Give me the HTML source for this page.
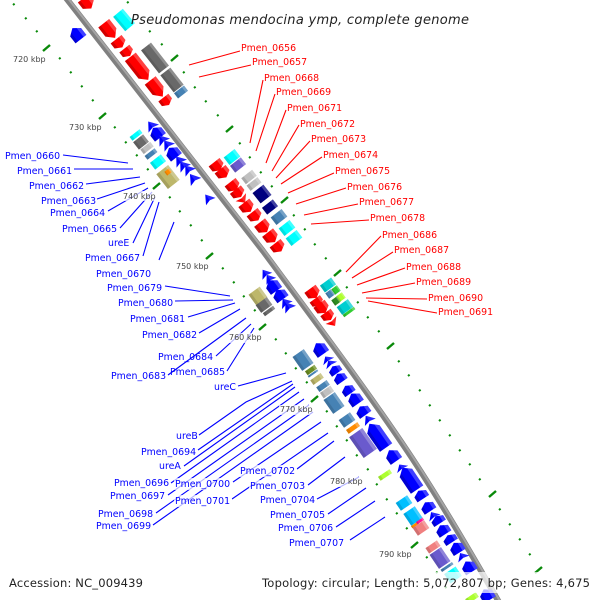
<!DOCTYPE html>
<html><head><meta charset="utf-8"><style>
html,body{margin:0;padding:0;background:#fff}
svg{display:block}
text{font-family:"DejaVu Sans","Liberation Sans",sans-serif}
.r text,.b text{font-size:9.4px}
.r text{fill:#f00}.b text{fill:#00f}
.k text{font-size:8px;fill:#444}
</style></head><body>
<svg width="600" height="600" viewBox="0 0 600 600" xmlns="http://www.w3.org/2000/svg">
<defs>
<g id="q"><rect x="-.47" y="-.575" width=".94" height="1.15"/><rect x="-.47" y="-.575" width=".94" height=".25" fill="#fff" opacity=".25"/><rect x="-.47" y=".325" width=".94" height=".25" fill="#000" opacity=".12"/></g>
<g id="a"><polygon points="-.43,-.575 .15,-.575 .5,0 .15,.575 -.43,.575"/><polygon points="-.43,-.575 .15,-.575 .33,-.28 -.43,-.28" fill="#fff" opacity=".25"/><polygon points="-.43,.32 .3,.32 .15,.575 -.43,.575" fill="#000" opacity=".18"/></g>
<g id="l"><polygon points="-.47,-.575 .27,-.575 .5,0 .27,.575 -.47,.575"/><polygon points="-.47,-.575 .27,-.575 .38,-.28 -.47,-.28" fill="#fff" opacity=".25"/><polygon points="-.47,.32 .34,.32 .27,.575 -.47,.575" fill="#000" opacity=".18"/></g>
<g id="t"><polygon points="-.5,-.6 .5,0 -.5,.6 -.32,0"/><polygon points="-.5,-.6 .5,0 -.32,0" fill="#fff" opacity=".15"/></g>
</defs>

<!-- backbone -->
<path d="M66,-2C130,80 200,170 263,251C320,328 370,395 408,452C440,500 475,560 500,604" fill="none" stroke="#808080" stroke-width="6"/>
<path d="M67,-3C131,79 201,169 264,250C321,327 371,394 409,451C441,499 476,559 501,603" fill="none" stroke="#a4a4a4" stroke-width="2"/>

<!-- tracks -->
<path fill="none" stroke="#0a8a0a" stroke-width="2" d="M13,5l1.6,-1.3M25,19l1.6,-1.3M36,32l1.6,-1.3M59,59l1.6,-1.3M70,73l1.6,-1.3M81,87l1.6,-1.3M92,101l1.6,-1.3M114,128l1.6,-1.3M125,143l1.6,-1.3M136,156l1.6,-1.3M147,170l1.6,-1.3M169,198l1.6,-1.3M179,212l1.6,-1.3M190,226l1.6,-1.3M201,241l1.6,-1.3M222,269l1.6,-1.3M233,283l1.6,-1.3M243,297l1.6,-1.3M254,311l1.6,-1.3M275,340l1.6,-1.3M285,354l1.6,-1.3M295,369l1.6,-1.3M306,383l1.6,-1.3M326,412l1.6,-1.3M336,427l1.6,-1.3M346,441l1.6,-1.3M356,456l1.6,-1.3M367,470l1.6,-1.3M376,485l1.6,-1.3M386,500l1.6,-1.3M396,514l1.6,-1.3M406,529l1.6,-1.3M426,558l1.6,-1.3M436,573l1.6,-1.3M445,588l1.6,-1.3
M127,3l1.6,-1.3M149,32l1.6,-1.3M161,45l1.6,-1.3M183,73l1.6,-1.3M194,88l1.6,-1.3M205,102l1.6,-1.3M217,116l1.6,-1.3M239,144l1.6,-1.3M249,158l1.6,-1.3M260,173l1.6,-1.3M271,187l1.6,-1.3M293,216l1.6,-1.3M304,230l1.6,-1.3M314,245l1.6,-1.3M325,259l1.6,-1.3M346,288l1.6,-1.3M357,303l1.6,-1.3M367,318l1.6,-1.3M378,332l1.6,-1.3M398,362l1.6,-1.3M408,376l1.6,-1.3M419,391l1.6,-1.3M429,406l1.6,-1.3M439,421l1.6,-1.3M449,436l1.6,-1.3M459,451l1.6,-1.3M469,465l1.6,-1.3M479,480l1.6,-1.3M499,510l1.6,-1.3M509,525l1.6,-1.3M519,540l1.6,-1.3M529,555l1.6,-1.3"/>
<path fill="none" stroke="#0a8a0a" stroke-width="2.4" d="M43,51l7,-6M99,119l7,-6M153,189l7,-6M206,259l7,-6M259,330l7,-6M311,402l7,-6M411,548l7,-6M171,61l7,-6M226,132l7,-6M281,203l7,-6M334,276l7,-6M387,349l7,-6M489,497l7,-6M535,573l7,-6"/>

<!-- top genes -->
<g>
<use href="#a" fill="#f00" transform="translate(87,3) rotate(52) scale(14,12)"/>
<use href="#a" fill="#f00" transform="translate(109,30) rotate(52) scale(20,12)"/>
<use href="#a" fill="#f00" transform="translate(119,43) rotate(52) scale(11,12)"/>
<use href="#a" fill="#f00" transform="translate(127,52) rotate(52) scale(10,11)"/>
<use href="#l" fill="#f00" transform="translate(139,68) rotate(52) scale(30,12)"/>
<use href="#a" fill="#f00" transform="translate(156,88) rotate(52) scale(22,12)"/>
<use href="#a" fill="#f00" transform="translate(166,101) rotate(52) scale(10,11)"/>
<use href="#a" fill="#00f" transform="translate(77,34) rotate(52) scale(-15,12)"/>
<use href="#q" fill="#0ff" transform="translate(124,20) rotate(50) scale(20,11)"/>
<use href="#q" fill="#696969" transform="translate(155,58) rotate(52) scale(31,11)"/>
<use href="#q" fill="#696969" transform="translate(172,80) rotate(52) scale(23,11)"/>
<use href="#q" fill="#4682b4" transform="translate(181,92) rotate(52) scale(7,11)"/>
</g>

<!-- group 2 left -->
<g>
<use href="#t" fill="#00f" transform="translate(151,125) rotate(52) scale(-9,11)"/>
<use href="#a" fill="#00f" transform="translate(157,133) rotate(52) scale(-13,12)"/>
<use href="#t" fill="#00f" transform="translate(162,139) rotate(52) scale(-9,11)"/>
<use href="#t" fill="#00f" transform="translate(167,144) rotate(52) scale(-9,11)"/>
<use href="#a" fill="#00f" transform="translate(173,153) rotate(52) scale(-13,12)"/>
<use href="#t" fill="#00f" transform="translate(179,160) rotate(52) scale(-9,11)"/>
<use href="#t" fill="#00f" transform="translate(183,165) rotate(52) scale(-9,11)"/>
<use href="#t" fill="#00f" transform="translate(188,169) rotate(52) scale(-9,11)"/>
<use href="#t" fill="#00f" transform="translate(193,178) rotate(52) scale(-10,11)"/>
<use href="#t" fill="#00f" transform="translate(208,198) rotate(52) scale(-9,10)"/>
<use href="#q" fill="#0ff" transform="translate(136,135) rotate(52) scale(5,11)"/>
<use href="#q" fill="#696969" transform="translate(141,142) rotate(52) scale(10,11)"/>
<use href="#q" fill="#c0c0c0" transform="translate(147,148) rotate(52) scale(6,11)"/>
<use href="#q" fill="#4682b4" transform="translate(151,154) rotate(52) scale(5,11)"/>
<use href="#q" fill="#0ff" transform="translate(158,162) rotate(52) scale(9,12)"/>
<use href="#q" fill="#bdb76b" transform="translate(168,177) rotate(52) scale(20,13)"/>
<use href="#q" fill="#ff8c00" transform="translate(168,172) rotate(52) scale(5,5)"/>
</g>

<!-- group 2 right -->
<g>
<use href="#a" fill="#f00" transform="translate(217,166) rotate(52) scale(11,12)"/>
<use href="#a" fill="#f00" transform="translate(223,173) rotate(52) scale(11,12)"/>
<use href="#a" fill="#f00" transform="translate(233,186) rotate(52) scale(11,12)"/>
<use href="#a" fill="#f00" transform="translate(238,193) rotate(52) scale(10,12)"/>
<use href="#t" fill="#f00" transform="translate(243,200) rotate(52) scale(7,11)"/>
<use href="#a" fill="#f00" transform="translate(247,207) rotate(52) scale(12,12)"/>
<use href="#a" fill="#f00" transform="translate(255,216) rotate(52) scale(11,12)"/>
<use href="#a" fill="#f00" transform="translate(263,227) rotate(52) scale(13,12)"/>
<use href="#a" fill="#f00" transform="translate(271,237) rotate(52) scale(13,12)"/>
<use href="#a" fill="#f00" transform="translate(278,247) rotate(52) scale(11,12)"/>
<use href="#q" fill="#0ff" transform="translate(232,157) rotate(52) scale(10,12)"/>
<use href="#q" fill="#6a5acd" transform="translate(238,165) rotate(52) scale(9,12)"/>
<use href="#q" fill="#c0c0c0" transform="translate(249,177) rotate(52) scale(8,12)"/>
<use href="#q" fill="#c0c0c0" transform="translate(254,184) rotate(52) scale(7,12)"/>
<use href="#q" fill="#000080" transform="translate(262,194) rotate(52) scale(14,12)"/>
<use href="#q" fill="#000080" transform="translate(270,207) rotate(52) scale(9,12)"/>
<use href="#q" fill="#4682b4" transform="translate(279,217) rotate(52) scale(10,12)"/>
<use href="#q" fill="#0ff" transform="translate(287,228) rotate(52) scale(10,12)"/>
<use href="#q" fill="#0ff" transform="translate(294,238) rotate(52) scale(10,12)"/>
</g>

<!-- group 3 -->
<g>
<use href="#t" fill="#00f" transform="translate(265,273) rotate(54) scale(-8,10)"/>
<use href="#t" fill="#00f" transform="translate(269,278) rotate(54) scale(-8,10)"/>
<use href="#a" fill="#00f" transform="translate(273,286) rotate(54) scale(-14,12)"/>
<use href="#a" fill="#00f" transform="translate(280,295) rotate(54) scale(-12,12)"/>
<use href="#t" fill="#00f" transform="translate(285,302) rotate(54) scale(-8,11)"/>
<use href="#t" fill="#00f" transform="translate(288,306) rotate(54) scale(-9,11)"/>
<use href="#q" fill="#bdb76b" transform="translate(258,296) rotate(54) scale(14,12)"/>
<use href="#q" fill="#696969" transform="translate(264,305) rotate(54) scale(10,12)"/>
<use href="#q" fill="#696969" transform="translate(269,311) rotate(54) scale(4,11)"/>
<use href="#a" fill="#f00" transform="translate(313,293) rotate(54) scale(12,12)"/>
<use href="#a" fill="#f00" transform="translate(317,302) rotate(54) scale(9,11)"/>
<use href="#a" fill="#f00" transform="translate(322,308) rotate(54) scale(12,12)"/>
<use href="#a" fill="#f00" transform="translate(328,316) rotate(54) scale(10,11)"/>
<use href="#t" fill="#f00" transform="translate(333,323) rotate(54) scale(7,11)"/>
<use href="#q" fill="#00ced1" transform="translate(328,285) rotate(54) scale(9,12)"/>
<use href="#q" fill="#4682b4" transform="translate(330,294) rotate(54) scale(7,6)"/>
<use href="#q" fill="#32cd32" transform="translate(336,290) rotate(54) scale(7,6)"/>
<use href="#q" fill="#2e8b22" transform="translate(336,301) rotate(54) scale(7,6)"/>
<use href="#q" fill="#adff2f" transform="translate(341,297) rotate(54) scale(7,6)"/>
<use href="#q" fill="#00ced1" transform="translate(345,307) rotate(54) scale(10,12)"/>
<use href="#q" fill="#32cd32" transform="translate(349,312) rotate(54) scale(3,12)"/>
</g>

<!-- group 4 -->
<g>
<use href="#a" fill="#00f" transform="translate(320,349) rotate(55) scale(-14,12)"/>
<use href="#t" fill="#00f" transform="translate(327,359) rotate(55) scale(-6,11)"/>
<use href="#t" fill="#00f" transform="translate(330,363) rotate(55) scale(-6,11)"/>
<use href="#a" fill="#00f" transform="translate(335,370) rotate(55) scale(-9,11)"/>
<use href="#a" fill="#00f" transform="translate(340,378) rotate(55) scale(-10,11)"/>
<use href="#a" fill="#00f" transform="translate(348,390) rotate(55) scale(-10,11)"/>
<use href="#a" fill="#00f" transform="translate(355,399) rotate(55) scale(-13,12)"/>
<use href="#a" fill="#00f" transform="translate(363,411) rotate(55) scale(-11,12)"/>
<use href="#t" fill="#00f" transform="translate(368,419) rotate(55) scale(-8,11)"/>
<use href="#l" fill="#00f" transform="translate(378,436) rotate(55) scale(-30,13)"/>
<use href="#a" fill="#00f" transform="translate(393,456) rotate(55) scale(-14,12)"/>
<use href="#q" fill="#4682b4" transform="translate(303,360) rotate(55) scale(18,12)"/>
<use href="#q" fill="#6b8e23" transform="translate(311,370) rotate(55) scale(5,10)"/>
<use href="#q" fill="#4682b4" transform="translate(313,373.500) rotate(55) scale(2,10)"/>
<use href="#q" fill="#bdb76b" transform="translate(317,379) rotate(55) scale(6,11)"/>
<use href="#q" fill="#4682b4" transform="translate(323,386) rotate(55) scale(6,11)"/>
<use href="#q" fill="#c0c0c0" transform="translate(327,392) rotate(55) scale(7,11)"/>
<use href="#q" fill="#4682b4" transform="translate(334,403) rotate(55) scale(18,12)"/>
<use href="#q" fill="#4682b4" transform="translate(347,420) rotate(55) scale(10,12)"/>
<use href="#q" fill="#ff8c00" transform="translate(353,428) rotate(55) scale(5,12)"/>
<use href="#q" fill="#6a5acd" transform="translate(363,443) rotate(55) scale(27,14)"/>
</g>

<!-- group 5 -->
<g>
<use href="#t" fill="#00f" transform="translate(401,467) rotate(56) scale(-6,11)"/>
<use href="#l" fill="#00f" transform="translate(410,479) rotate(56) scale(-27,13)"/>
<use href="#a" fill="#00f" transform="translate(421,495) rotate(57) scale(-10,12)"/>
<use href="#a" fill="#00f" transform="translate(428,507) rotate(57) scale(-11,12)"/>
<use href="#t" fill="#00f" transform="translate(433,515) rotate(57) scale(-7,11)"/>
<use href="#a" fill="#00f" transform="translate(438,520) rotate(57) scale(-9,12)"/>
<use href="#a" fill="#00f" transform="translate(443,530) rotate(57) scale(-11,12)"/>
<use href="#a" fill="#00f" transform="translate(450,539) rotate(57) scale(-9,12)"/>
<use href="#a" fill="#00f" transform="translate(457,548) rotate(58) scale(-12,12)"/>
<use href="#t" fill="#00f" transform="translate(462,556) rotate(58) scale(-7,11)"/>
<use href="#a" fill="#00f" transform="translate(469,567) rotate(58) scale(-13,12)"/>
<use href="#a" fill="#00f" transform="translate(487,595) rotate(59) scale(-13,12)"/>
<use href="#q" fill="#adff2f" transform="translate(385,475) rotate(56) scale(5,12)"/>
<use href="#q" fill="#00bfff" transform="translate(404,503) rotate(56) scale(10,12)"/>
<use href="#q" fill="#00bfff" transform="translate(413,516) rotate(56) scale(15,12)"/>
<use href="#q" fill="#ff8c00" transform="translate(415,525) rotate(56) scale(3,7)"/>
<use href="#q" fill="#ff1493" transform="translate(420,521) rotate(56) scale(3,7)"/>
<use href="#q" fill="#f08080" transform="translate(421,528) rotate(56) scale(10,12)"/>
<use href="#q" fill="#f08080" transform="translate(433,547) rotate(56) scale(7,12)"/>
<use href="#q" fill="#6a5acd" transform="translate(440,558) rotate(56) scale(18,12)"/>
<use href="#q" fill="#4682b4" transform="translate(447,567) rotate(56) scale(3,12)"/>
<use href="#q" fill="#0ff" transform="translate(453,575) rotate(56) scale(12,12)"/>
<use href="#q" fill="#adff2f" transform="translate(472,598) rotate(56) scale(6,11)"/>
</g>

<!-- red lines -->
<path fill="none" stroke="#f00" stroke-width="1.1" d="M240,51L189,65M251,65L199,77M263,80L250,143M275,94L256,151M286,110L266,163M299,125L272,171M310,141L276,178M322,157L281,184M334,173L288,193M346,188L296,204M358,204L304,215M369,220L311,224M381,236L346,272M393,252L352,278M405,268L357,285M415,283L362,293M427,299L366,298M437,313L368,301"/>
<!-- blue lines -->
<path fill="none" stroke="#00f" stroke-width="1.1" d="M63,155L128,163M74,169L133,169M86,184L140,177M97,199L145,183M108,211L148,188M120,228L152,192M133,243L155,197M143,256L159,202M159,260L174,222M165,286L230,296M175,301L233,300M188,317L235,303M199,333L240,309M168,375L246,318M216,356L251,324M227,371L254,328M238,386L286,373M199,435L246,402L292,381M198,450L293,384M184,466L295,387M171,483L299,392M168,495L304,399M156,513L309,405M153,525L313,412M233,482L321,422M232,499L328,433M297,469L334,441M308,485L345,457M317,499L359,477M328,514L366,488M336,527L375,501M350,540L385,517"/>

<!-- translucent backdrops -->
<rect x="258" y="572" width="336" height="21" fill="#fff" opacity=".72"/>
<g fill="#fff" opacity=".7">
<rect x="174" y="478" width="58" height="12"/><rect x="174" y="495" width="58" height="12"/>
<rect x="239" y="465" width="58" height="12"/><rect x="249" y="480" width="58" height="12"/>
<rect x="122" y="191" width="34" height="10"/><rect x="228" y="333" width="35" height="10"/>
<rect x="279" y="405" width="35" height="10"/><rect x="329" y="477" width="35" height="10"/>
</g>

<g class="k">
<text x="13" y="62">720 kbp</text>
<text x="69" y="130">730 kbp</text>
<text x="123" y="199">740 kbp</text>
<text x="176" y="269">750 kbp</text>
<text x="229" y="340">760 kbp</text>
<text x="280" y="412">770 kbp</text>
<text x="330" y="484">780 kbp</text>
<text x="379" y="557">790 kbp</text>
</g>

<text x="131" y="24" font-size="13" font-style="italic" fill="#222" textLength="338" lengthAdjust="spacing">Pseudomonas mendocina ymp, complete genome</text>

<g class="r">
<text x="241" y="51">Pmen_0656</text>
<text x="252" y="65">Pmen_0657</text>
<text x="264" y="81">Pmen_0668</text>
<text x="276" y="95">Pmen_0669</text>
<text x="287" y="111">Pmen_0671</text>
<text x="300" y="127">Pmen_0672</text>
<text x="311" y="142">Pmen_0673</text>
<text x="323" y="158">Pmen_0674</text>
<text x="335" y="174">Pmen_0675</text>
<text x="347" y="190">Pmen_0676</text>
<text x="359" y="205">Pmen_0677</text>
<text x="370" y="221">Pmen_0678</text>
<text x="382" y="238">Pmen_0686</text>
<text x="394" y="253">Pmen_0687</text>
<text x="406" y="270">Pmen_0688</text>
<text x="416" y="285">Pmen_0689</text>
<text x="428" y="301">Pmen_0690</text>
<text x="438" y="315">Pmen_0691</text>
</g>
<g class="b">
<text x="5" y="159">Pmen_0660</text>
<text x="17" y="174">Pmen_0661</text>
<text x="29" y="189">Pmen_0662</text>
<text x="41" y="204">Pmen_0663</text>
<text x="50" y="216">Pmen_0664</text>
<text x="62" y="232">Pmen_0665</text>
<text x="108" y="246">ureE</text>
<text x="85" y="261">Pmen_0667</text>
<text x="96" y="277">Pmen_0670</text>
<text x="107" y="291">Pmen_0679</text>
<text x="118" y="306">Pmen_0680</text>
<text x="130" y="322">Pmen_0681</text>
<text x="142" y="338">Pmen_0682</text>
<text x="158" y="360">Pmen_0684</text>
<text x="111" y="379">Pmen_0683</text>
<text x="170" y="375">Pmen_0685</text>
<text x="214" y="390">ureC</text>
<text x="176" y="439">ureB</text>
<text x="141" y="455">Pmen_0694</text>
<text x="159" y="469">ureA</text>
<text x="114" y="486">Pmen_0696</text>
<text x="175" y="487">Pmen_0700</text>
<text x="110" y="499">Pmen_0697</text>
<text x="175" y="504">Pmen_0701</text>
<text x="98" y="517">Pmen_0698</text>
<text x="96" y="529">Pmen_0699</text>
<text x="240" y="474">Pmen_0702</text>
<text x="250" y="489">Pmen_0703</text>
<text x="260" y="503">Pmen_0704</text>
<text x="270" y="518">Pmen_0705</text>
<text x="278" y="531">Pmen_0706</text>
<text x="289" y="546">Pmen_0707</text>
</g>

<text x="9" y="587" font-size="11.500" fill="#222" textLength="134" lengthAdjust="spacing">Accession: NC_009439</text>
<text x="262" y="587" font-size="11.500" fill="#222" textLength="328" lengthAdjust="spacing">Topology: circular; Length: 5,072,807 bp; Genes: 4,675</text>
</svg>
</body></html>
